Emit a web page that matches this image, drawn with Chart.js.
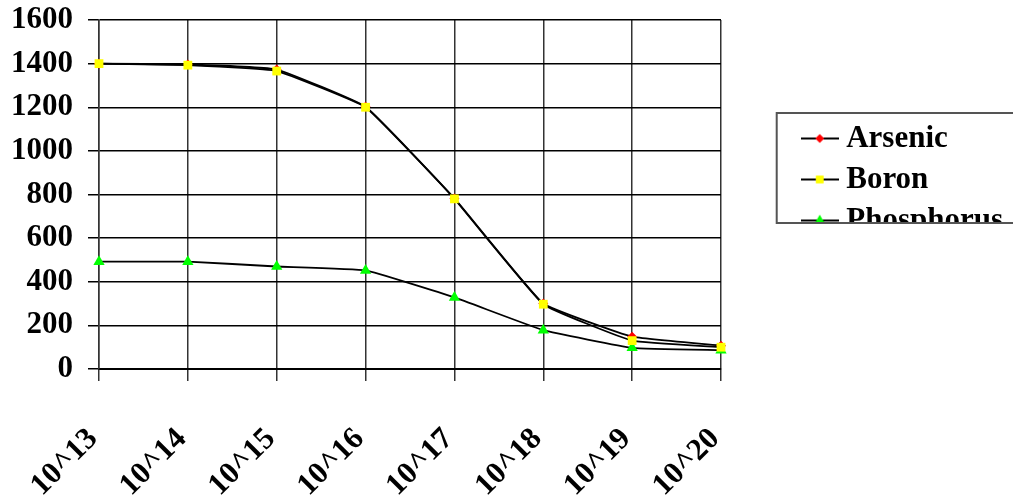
<!DOCTYPE html>
<html>
<head>
<meta charset="utf-8">
<script src="https://cdn.jsdelivr.net/npm/chart.js@4.4.1/dist/chart.umd.min.js"></script>
<style>
  html, body { margin: 0; padding: 0; background: #fff; }
  #wrap { width: 1013px; height: 503px; position: relative; }
</style>
</head>
<body>
<div id="wrap"><canvas id="c"></canvas></div>
<script>
// Concentration categories and measured series
const categories = ['10^13', '10^14', '10^15', '10^16', '10^17', '10^18', '10^19', '10^20'];
const arsenic    = [1400, 1396, 1373, 1202, 782, 300, 148, 107];
const boron      = [1400, 1393, 1366, 1200, 780, 297, 130, 100];
const phosphorus = [492, 492, 470, 452, 328, 178, 97, 86];
const yTickValues = [0, 200, 400, 600, 800, 1000, 1200, 1400, 1600];

const FONT_FAMILY = '"Liberation Serif", "Times New Roman", Times, serif';
const LABEL_FONT = { family: FONT_FAMILY, size: 31, weight: 'bold' };

const seriesStyle = [
  { name: 'Arsenic',    data: arsenic,    color: '#ff0000', style: 'rectRot',  radius: 5,   order: 3 },
  { name: 'Boron',      data: boron,      color: '#ffff00', style: 'rect',     radius: 6.2, order: 1 },
  { name: 'Phosphorus', data: phosphorus, color: '#00ff00', style: 'triangle', radius: 6.5, order: 2 }
];

// Legend symbol: short black line with the series marker in the middle
function legendSymbol(s) {
  const cv = document.createElement('canvas');
  cv.width = 38; cv.height = 16;
  const g = cv.getContext('2d');
  g.strokeStyle = '#000'; g.lineWidth = 2;
  g.beginPath(); g.moveTo(0, 8); g.lineTo(38, 8); g.stroke();
  g.fillStyle = s.color;
  Chart.helpers.drawPoint(g, { pointStyle: s.style, radius: s.radius * 0.85, rotation: 0, borderWidth: 0 }, 19, 8);
  g.fill();
  return cv;
}

// Frame around the legend; its lower edge trims the last entry
const legendFrame = {
  id: 'legendFrame',
  afterDraw(chart) {
    const lg = chart.legend;
    if (!lg || !lg.legendHitBoxes || !lg.legendHitBoxes.length) return;
    const hb = lg.legendHitBoxes;
    const ctx = chart.ctx;
    const left = hb[0].left - 32;
    const top = hb[0].top - 10;
    const bottom = hb[hb.length - 1].top + 18;
    ctx.save();
    ctx.fillStyle = '#fff';
    ctx.fillRect(left - 2, bottom + 1, chart.width - left + 10, 24);
    ctx.strokeStyle = '#555';
    ctx.lineWidth = 2;
    ctx.strokeRect(left, top, chart.width - left + 10, bottom - top);
    ctx.restore();
  }
};

new Chart(document.getElementById('c'), {
  type: 'line',
  data: {
    labels: categories,
    datasets: seriesStyle.map(s => ({
      label: s.name,
      data: s.data,
      borderColor: '#000',
      borderWidth: 1.8,
      tension: 0.1,
      fill: false,
      clip: false,
      order: s.order,
      pointStyle: s.style,
      pointRadius: s.radius,
      pointHoverRadius: s.radius,
      pointBackgroundColor: s.color,
      pointBorderColor: s.color,
      pointBorderWidth: 0
    }))
  },
  options: {
    responsive: true,
    maintainAspectRatio: false,
    animation: false,
    layout: { padding: { left: 11, top: 1, right: 0, bottom: 0 } },
    plugins: {
      tooltip: { enabled: false },
      legend: {
        position: 'right',
        align: 'start',
        maxWidth: 400,
        title: { display: true, text: ' ', font: { size: 10 }, padding: { top: 100, bottom: 0 } },
        labels: {
          font: LABEL_FONT,
          color: '#000',
          padding: 10,
          usePointStyle: true,
          pointStyleWidth: 22,
          generateLabels: () => seriesStyle.map((s, i) => ({
            text: s.name,
            pointStyle: legendSymbol(s),
            fillStyle: s.color,
            strokeStyle: '#000',
            lineWidth: 0,
            fontColor: '#000',
            hidden: false,
            datasetIndex: i
          }))
        }
      }
    },
    scales: {
      x: {
        type: 'category',
        offset: false,
        afterFit: scale => { scale.paddingLeft = 0; scale.paddingRight = 0; scale.height = 134; },
        grid: { color: '#333', lineWidth: 1.5, tickLength: 12, drawTicks: true },
        border: { color: '#000', width: 2 },
        ticks: { font: LABEL_FONT, color: '#000', minRotation: 45, maxRotation: 45, padding: 40, labelOffset: -6, autoSkip: false }
      },
      y: {
        min: 0,
        max: 1600,
        afterBuildTicks: scale => { scale.ticks = yTickValues.map(v => ({ value: v })); },
        afterFit: scale => { scale.width = 88; scale.paddingTop = 20; scale.paddingBottom = 19; },
        grid: { color: '#000', lineWidth: 1.5, tickLength: 11, drawTicks: true },
        border: { color: '#333', width: 1.5 },
        ticks: { font: LABEL_FONT, color: '#000', padding: 15, autoSkip: false, callback: v => String(v) }
      },
      gap: {
        type: 'linear',
        position: 'right',
        display: true,
        grid: { display: false, drawTicks: false },
        border: { display: false },
        ticks: { display: false },
        afterFit: scale => {
          const lw = scale.chart.legend ? scale.chart.legend.width : 0;
          scale.width = Math.max(0, scale.chart.width - lw - 721);
        }
      }
    }
  },
  plugins: [legendFrame]
});
</script>
</body>
</html>
